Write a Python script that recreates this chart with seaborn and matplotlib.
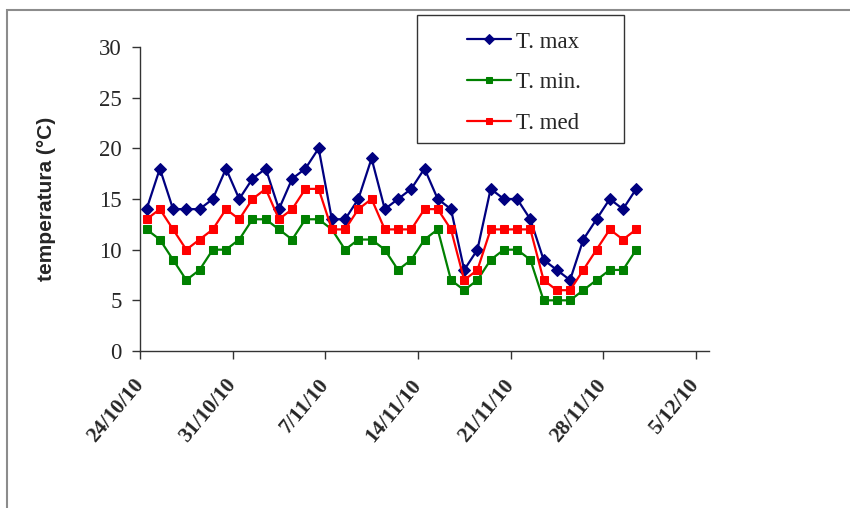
import matplotlib
matplotlib.use("Agg")
import matplotlib.pyplot as plt
from matplotlib.patches import Rectangle
import pandas as pd
import seaborn as sns

# Daily temperatures, 24/10/2010 - 30/11/2010
start_date = "2010-10-24"
n_days = 38
t_max = [14, 18, 14, 14, 14, 15, 18, 15, 17, 18, 14, 17, 18, 20,
         13, 13, 15, 19, 14, 15, 16, 18, 15, 14, 8, 10, 16, 15, 15,
         13, 9, 8, 7, 11, 13, 15, 14, 16]
t_min = [12, 11, 9, 7, 8, 10, 10, 11, 13, 13, 12, 11, 13, 13,
         12, 10, 11, 11, 10, 8, 9, 11, 12, 7, 6, 7, 9, 10, 10,
         9, 5, 5, 5, 6, 7, 8, 8, 10]
t_med = [13, 14, 12, 10, 11, 12, 14, 13, 15, 16, 13, 14, 16, 16,
         12, 12, 14, 15, 12, 12, 12, 14, 14, 12, 7, 8, 12, 12, 12,
         12, 7, 6, 6, 8, 10, 12, 11, 12]

series_names = ["T. max", "T. min.", "T. med"]
tick_dates = ["2010-10-24", "2010-10-31", "2010-11-07", "2010-11-14",
              "2010-11-21", "2010-11-28", "2010-12-05"]
tick_labels = ["24/10/10", "31/10/10", "7/11/10", "14/11/10",
               "21/11/10", "28/11/10", "5/12/10"]
y_label = "temperatura (°C)"

sns.set_theme(style="white")
plt.rcParams["font.family"] = ["Liberation Serif", "DejaVu Serif"]

dates = pd.date_range(start_date, periods=n_days, freq="D")
# each day's value sits in the middle of its day slot
x = dates + pd.Timedelta(hours=12)

fig = plt.figure(figsize=(8.5, 5.08), dpi=100)
ax = fig.add_axes([140 / 850, 1 - 351 / 508, 569 / 850, 304 / 508])

styles = [
    (t_max, "#000080", "D", 6.5),
    (t_min, "#008000", "s", 6.0),
    (t_med, "#ff0000", "s", 6.0),
]
for name, (vals, col, mk, ms) in zip(series_names, styles):
    sns.lineplot(x=x, y=vals, ax=ax, color=col, marker=mk, markersize=ms,
                 markeredgecolor=col, linewidth=1.6, label=name)

ax.set_ylim(0, 30)
ax.set_yticks([0, 5, 10, 15, 20, 25, 30])
ax.set_xlim(pd.Timestamp("2010-10-24"), pd.Timestamp("2010-12-06"))
ax.set_xticks(pd.to_datetime(tick_dates))
ax.set_xticklabels(tick_labels, rotation=50, ha="right", va="center",
                   rotation_mode="anchor", fontsize=15.5, fontweight="bold")
ax.tick_params(axis="y", labelsize=16.5, direction="out", length=6, width=1,
               pad=7, left=True, color="#333333")
ax.tick_params(axis="x", direction="out", length=6, width=1, pad=16,
               bottom=True, color="#333333")

for side in ["top", "right"]:
    ax.spines[side].set_visible(False)
for side in ["left", "bottom"]:
    ax.spines[side].set_color("#333333")
    ax.spines[side].set_linewidth(1.0)

ax.set_xlabel("")
ax.set_ylabel(y_label, family=["Liberation Sans", "DejaVu Sans"],
              fontweight="bold", fontsize=15)
ax.yaxis.set_label_coords(-0.148, 0.5)

# legend entries, boxed
leg = ax.legend(loc="upper left", bbox_to_anchor=(456 / 850, 1 - 20 / 508),
                bbox_transform=fig.transFigure, frameon=False, fontsize=16.5,
                handlelength=1.92, handletextpad=0.22, labelspacing=0.86,
                borderpad=0.0, markerscale=0.75)
fig.add_artist(Rectangle((417 / 850, 1 - 143 / 508), 207 / 850, 128 / 508,
                         transform=fig.transFigure, fill=False,
                         edgecolor="#333333", linewidth=1.0))

# outer chart border
fig.add_artist(Rectangle((7 / 850, -0.05), 1.0, 1.05 - 10 / 508,
                         transform=fig.transFigure, fill=False,
                         edgecolor="#8c8c8c", linewidth=1.5))

fig.savefig("out.png", dpi=100)
